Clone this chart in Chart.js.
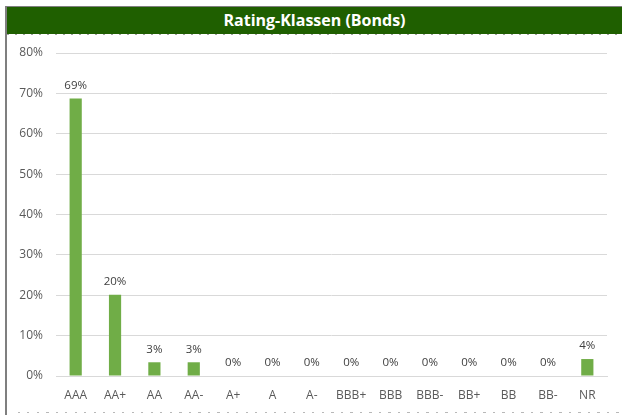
<!DOCTYPE html>
<html><head><meta charset="utf-8">
<script src="https://cdn.jsdelivr.net/npm/chart.js@4"></script>
<style>
html,body{margin:0;padding:0;background:#fff;}
#wrap{position:relative;width:622px;height:415px;overflow:hidden;}
#frame{position:absolute;left:5px;top:6px;width:617px;height:409px;border-left:2px solid #7f7f7f;border-top:2px solid #7f7f7f;box-sizing:border-box;}
#title{position:absolute;left:7px;top:7px;width:615px;height:27px;background:#1f5f00;color:#fff;font:bold 16px "Open Sans",sans-serif;text-align:center;line-height:27px;box-sizing:border-box;}
#tline{position:absolute;left:7px;top:34px;width:615px;height:1px;background:repeating-linear-gradient(90deg,#a0a0a0 0 2px,transparent 2px 8px);}
#bottom{position:absolute;left:18px;top:412px;width:604px;height:1px;background:repeating-linear-gradient(90deg,#b8b8b8 0 2px,transparent 2px 9.5px);}
canvas{position:absolute;left:0;top:0;}
</style></head>
<body><div id="wrap">
<canvas id="c" width="622" height="415"></canvas>
<div id="frame"></div>
<div id="title">Rating-Klassen (Bonds)</div>
<div id="tline"></div>
<div id="bottom"></div>
</div>
<script>
const categories = ["AAA","AA+","AA","AA-","A+","A","A-","BBB+","BBB","BBB-","BB+","BB","BB-","NR"];
const shares = [68.7, 20.1, 3.4, 3.4, 0, 0, 0, 0, 0, 0, 0, 0, 0, 4.2];
const yTicks = [0, 10, 20, 30, 40, 50, 60, 70, 80];

const labelPlugin = {
  id: 'barLabels',
  afterDatasetsDraw(chart) {
    const ctx = chart.ctx;
    const meta = chart.getDatasetMeta(0);
    ctx.save();
    ctx.font = '11.5px "Open Sans", sans-serif';
    ctx.fillStyle = '#404040';
    ctx.textAlign = 'center';
    ctx.textBaseline = 'middle';
    meta.data.forEach((bar, i) => {
      ctx.fillText(Math.round(shares[i]) + '%', bar.x, bar.y - 13);
    });
    ctx.restore();
  }
};

new Chart(document.getElementById('c'), {
  type: 'bar',
  data: {
    labels: categories,
    datasets: [{
      data: shares,
      backgroundColor: '#70ad47',
      borderWidth: 0,
      categoryPercentage: 1,
      barPercentage: 0.31
    }]
  },
  options: {
    responsive: false,
    animation: false,
    events: [],
    layout: { padding: { top: 53, right: 15, left: 0, bottom: 0 } },
    plugins: { legend: { display: false }, tooltip: { enabled: false }, title: { display: false } },
    scales: {
      x: {
        grid: { display: false, drawTicks: false },
        border: { display: true, color: '#d9d9d9', width: 1 },
        ticks: { color: '#595959', font: { family: '"Open Sans", sans-serif', size: 12 }, padding: 12, maxRotation: 0, autoSkip: false },
        afterFit(s) { s.height = 39; }
      },
      y: {
        min: 0, max: 80,
        afterBuildTicks(s) { s.ticks = yTicks.map(v => ({ value: v })); },
        grid: { color: '#d9d9d9', lineWidth: 1, drawTicks: false },
        border: { display: false },
        ticks: { color: '#595959', font: { family: '"Open Sans", sans-serif', size: 12 }, padding: 13, callback: v => v + '%' },
        afterFit(s) { s.width = 56; }
      }
    }
  },
  plugins: [labelPlugin]
});
</script>
</body></html>
